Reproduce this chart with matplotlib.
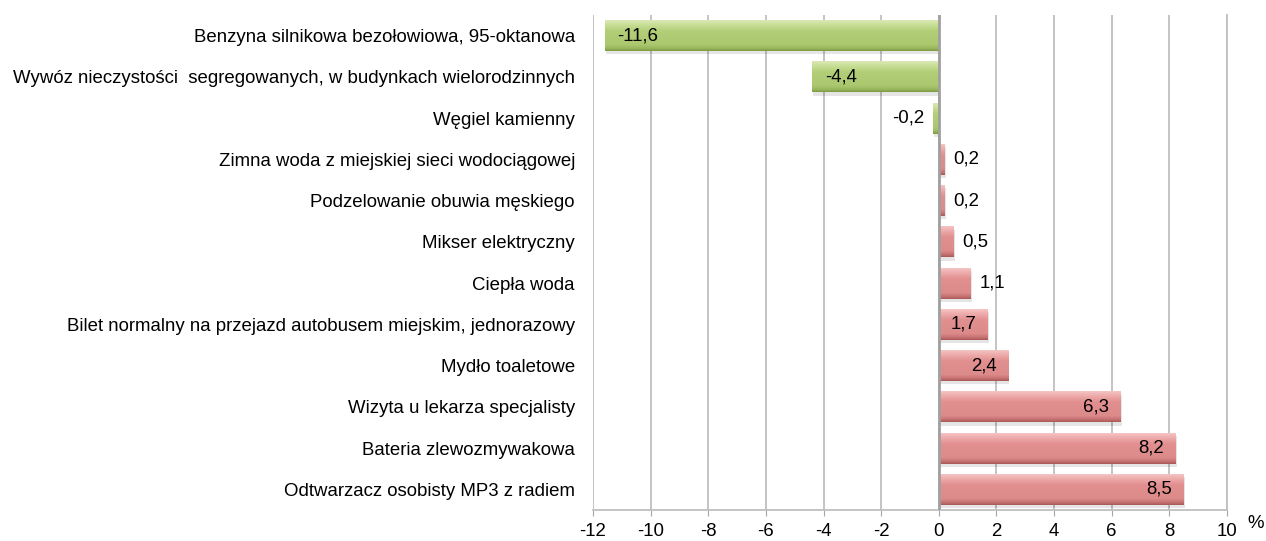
import numpy as np
import matplotlib.pyplot as plt
from matplotlib.colors import LinearSegmentedColormap

plt.rcParams['font.family'] = ['Liberation Sans', 'DejaVu Sans']

categories = ['Benzyna silnikowa bezołowiowa, 95-oktanowa',
              'Wywóz nieczystości  segregowanych, w budynkach wielorodzinnych',
              'Węgiel kamienny',
              'Zimna woda z miejskiej sieci wodociągowej',
              'Podzelowanie obuwia męskiego',
              'Mikser elektryczny',
              'Ciepła woda',
              'Bilet normalny na przejazd autobusem miejskim, jednorazowy',
              'Mydło toaletowe',
              'Wizyta u lekarza specjalisty',
              'Bateria zlewozmywakowa',
              'Odtwarzacz osobisty MP3 z radiem']
values = [-11.6, -4.4, -0.2, 0.2, 0.2, 0.5, 1.1, 1.7, 2.4, 6.3, 8.2, 8.5]
xticks = [-12, -10, -8, -6, -4, -2, 0, 2, 4, 6, 8, 10]

green_cm = LinearSegmentedColormap.from_list(
    'g', [(0, '#dbe9b4'), (0.2, '#c2da8e'), (0.35, '#b2cf78'), (0.8, '#abc86f'),
          (0.92, '#98b75c'), (1, '#7e9b45')])
red_cm = LinearSegmentedColormap.from_list(
    'r', [(0, '#f5c4c3'), (0.2, '#eba3a3'), (0.35, '#e28f90'), (0.8, '#dc8a8a'),
          (0.92, '#c87272'), (1, '#a95a58')])

fig = plt.figure(figsize=(12.66, 5.41), dpi=100)
ax = fig.add_axes([593 / 1266, 1 - 510 / 541, (1227 - 593) / 1266, (510 - 15) / 541])

y = np.arange(len(categories))
bars = ax.barh(y, values, height=0.75, color='none', edgecolor='none', zorder=3)

grad = np.linspace(0, 1, 64).reshape(-1, 1)
for b, v in zip(bars, values):
    x0, y0, w, h = b.get_x(), b.get_y(), b.get_width(), b.get_height()
    cm = green_cm if v < 0 else red_cm
    # soft shadow under each bar
    sh = plt.Rectangle((x0 + 0.05, y0 + 0.08), w, h, color='#000000', alpha=0.1,
                       zorder=2, lw=0)
    ax.add_patch(sh)
    im = ax.imshow(grad, extent=[x0, x0 + w, y0 + h, y0], origin='upper',
                   aspect='auto', cmap=cm, zorder=3, interpolation='bilinear')
    im.set_clip_path(b)

fs = 13.4
for yi, v in zip(y, values):
    lab = f'{v:.1f}'.replace('.', ',')
    if v < -1:
        ax.text(v + 0.45, yi, lab, ha='left', va='center', fontsize=fs, zorder=5)
    elif v < 0:
        ax.text(v - 0.3, yi, lab, ha='right', va='center', fontsize=fs, zorder=5)
    elif v < 1.5:
        ax.text(v + 0.3, yi, lab, ha='left', va='center', fontsize=fs, zorder=5)
    else:
        ax.text(v - 0.4, yi, lab, ha='right', va='center', fontsize=fs, zorder=5)

ax.set_xlim(-12, 10)
ax.set_ylim(len(categories) - 0.5, -0.5)
ax.set_xticks(xticks)
ax.set_xticklabels([str(t) for t in xticks], fontsize=fs)
ax.set_yticks(y)
ax.set_yticklabels(categories, fontsize=fs)
ax.tick_params(axis='y', length=0, pad=13)
ax.tick_params(axis='x', length=4, color='#a6a6a6', pad=5)

ax.grid(axis='x', color='#bfbfbf', linewidth=1.3, zorder=0)
ax.set_axisbelow(True)
ax.axvline(0, color='#a0a0a0', linewidth=2, zorder=4)
for s in ['top', 'left']:
    ax.spines[s].set_visible(False)
for s in ['right', 'bottom']:
    ax.spines[s].set_color('#bfbfbf')
    ax.spines[s].set_linewidth(1.3)

fig.text(1256 / 1266, 1 - 524 / 541, '%', ha='center', va='center', fontsize=fs)

fig.savefig('out.png', dpi=100)
